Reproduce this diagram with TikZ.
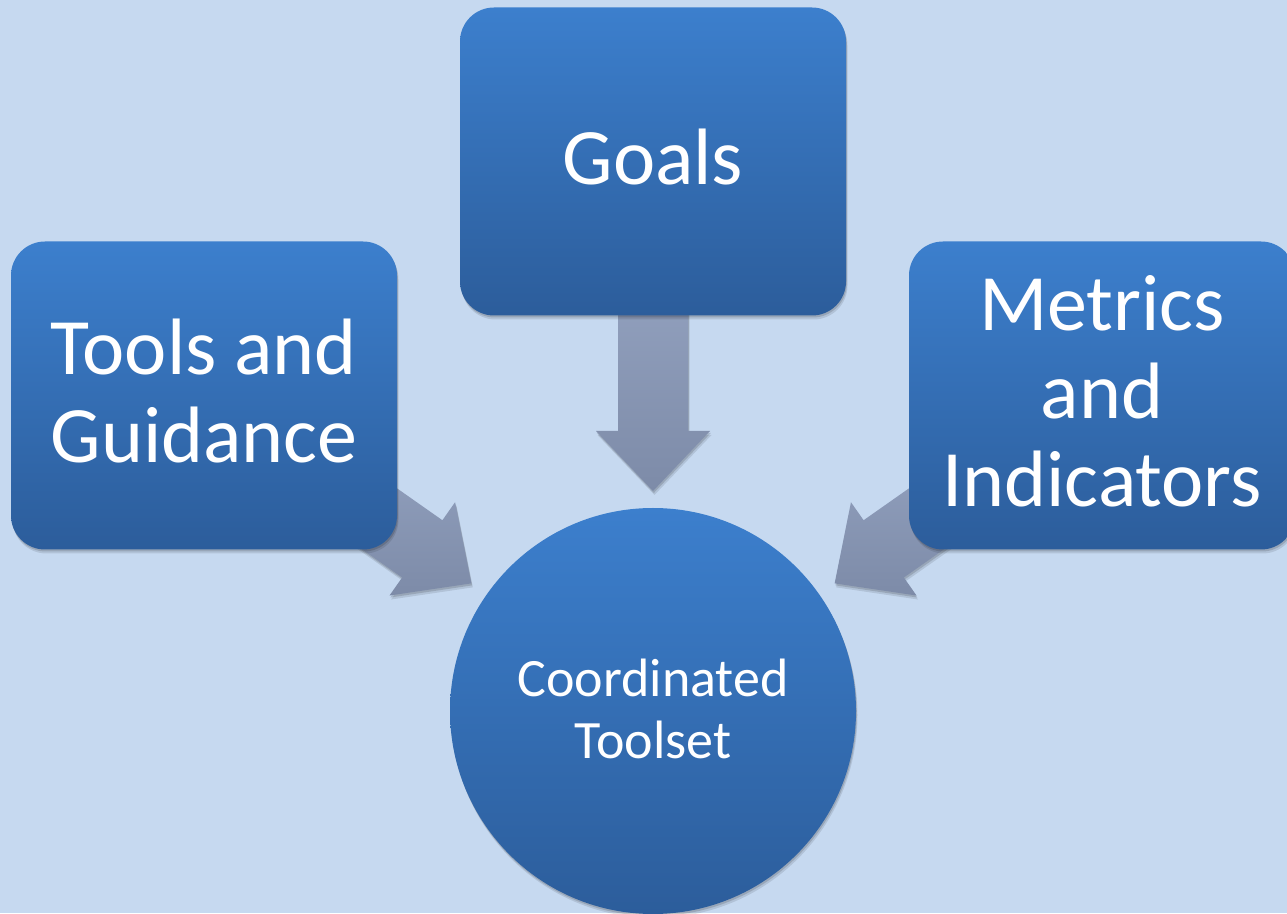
\documentclass[tikz,border=0pt]{standalone}
\usepackage{fontspec}
\setmainfont{Carlito}
\usetikzlibrary{calc,shadows}

\definecolor{pagebg}{RGB}{198,217,240}
\definecolor{boxtop}{RGB}{60,127,205}
\definecolor{boxbottom}{RGB}{44,93,155}
\definecolor{arrowtop}{RGB}{158,173,203}
\definecolor{arrowbottom}{RGB}{125,139,168}

\pgfdeclarelayer{backdrop}
\pgfdeclarelayer{arrows}
\pgfsetlayers{backdrop,arrows,main}

\tikzset{
  softshadow/.style={
    drop shadow={shadow xshift=1.5pt, shadow yshift=-4pt, opacity=.10, fill=black},
    drop shadow={shadow xshift=.8pt, shadow yshift=-2pt, opacity=.14, fill=black}},
  topicbox/.style={rectangle, rounded corners=34pt, minimum width=386pt,
    minimum height=308pt, top color=boxtop, bottom color=boxbottom,
    text=white, align=center, text depth=9pt, softshadow,
    font=\fontsize{80}{88}\selectfont},
  hubcircle/.style={circle, minimum size=406pt, inner sep=0pt,
    top color=boxtop, bottom color=boxbottom, text=white, align=center,
    text depth=5pt, softshadow, font=\fontsize{54}{62}\selectfont},
  arrowbody/.style={top color=arrowtop, bottom color=arrowbottom, softshadow},
}

% block arrow from the centre of node #1 to the point #2
\newcommand\blockarrow[2]{%
  \coordinate (headbase) at ($(#2)!60pt!(#1.center)$);
  \path[arrowbody]
    ($(#1.center)!35pt!-90:(#2)$) -- ($(headbase)!35pt!90:(#1.center)$)
    -- ($(headbase)!57pt!90:(#1.center)$) -- (#2)
    -- ($(headbase)!57pt!-90:(#1.center)$) -- ($(headbase)!35pt!-90:(#1.center)$)
    -- ($(#1.center)!35pt!90:(#2)$) -- cycle;
}

\begin{document}
\begin{tikzpicture}[x=1pt,y=1pt]
  \begin{pgfonlayer}{backdrop}
    \fill[pagebg] (0,0) rectangle (1287,913);
  \end{pgfonlayer}
  \useasboundingbox (0,0) rectangle (1287,913);

  \node[topicbox] (goals) at (653,751.5) {Goals};
  \node[topicbox] (tools) at (204,517.5) {Tools and\\Guidance};
  \node[topicbox] (metrics) at (1102,517.5) {Metrics\\and\\Indicators};
  \node[hubcircle] (hub) at (653,202) {Coordinated\\Toolset};

  \coordinate (tipgoals) at ($(hub.center)!220pt!(goals.center)$);
  \coordinate (tiptools) at ($(hub.center)!222pt!(tools.center)$);
  \coordinate (tipmetrics) at ($(hub.center)!222pt!(metrics.center)$);

  \begin{pgfonlayer}{arrows}
    \blockarrow{goals}{tipgoals}
    \blockarrow{tools}{tiptools}
    \blockarrow{metrics}{tipmetrics}
  \end{pgfonlayer}
\end{tikzpicture}
\end{document}
